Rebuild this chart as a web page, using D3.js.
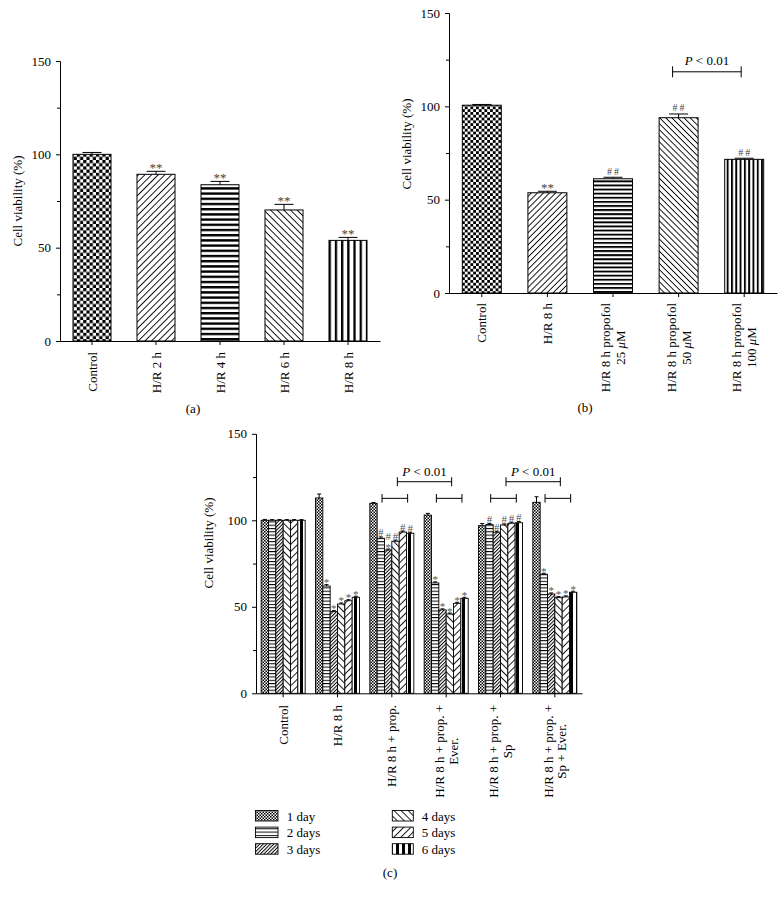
<!DOCTYPE html>
<html><head><meta charset="utf-8">
<script src="https://cdn.jsdelivr.net/npm/d3@7"></script>
<style>body{margin:0;background:#fff} svg{display:block} text{font-family:"Liberation Serif","DejaVu Serif",serif;}</style>
</head><body><svg id="c" width="784" height="901"></svg>
<script>
// ---------- DATA ----------
const yTicks = [0, 50, 100, 150];
const yMinor = [25, 75, 125];
const yTitle = "Cell viability (%)";
const pLabel = "P < 0.01";

// Panel (a)
const catsA = ["Control", "H/R 2 h", "H/R 4 h", "H/R 6 h", "H/R 8 h"];
const valsA = [100, 89.3, 83.7, 70.2, 53.9];
const errA  = [1.0, 1.6, 1.8, 3.0, 1.6];
const marksA = ["", "**", "**", "**", "**"];

// Panel (b)
const catsB = ["Control", "H/R 8 h", "H/R 8 h propofol\n25 μM", "H/R 8 h propofol\n50 μM", "H/R 8 h propofol\n100 μM"];
const valsB = [100.6, 53.7, 61.2, 93.9, 71.6];
const errB  = [0.4, 0.8, 0.8, 2.0, 0.6];
const marksB = ["", "**", "##", "##", "##"];
const bracketsB = [{from: 3, to: 4, y: 118.5}];

// Panel (c)
const groupsC = ["Control", "H/R 8 h", "H/R 8 h + prop.", "H/R 8 h + prop. +\nEver.", "H/R 8 h + prop. +\nSp", "H/R 8 h + prop. +\nSp + Ever."];
const seriesC = ["1 day", "2 days", "3 days", "4 days", "5 days", "6 days"];
const day1 = [100, 112.9, 109.8, 103.0, 96.9, 110.4];
const day2 = [100, 62.0, 89.6, 63.8, 97.5, 68.8];
const day3 = [100, 47.2, 82.8, 48.2, 93.1, 57.4];
const day4 = [100, 51.6, 87.9, 45.8, 97.3, 55.3];
const day5 = [100, 53.5, 93.2, 52.0, 98.3, 55.7];
const day6 = [100, 55.5, 92.5, 54.9, 98.6, 58.4];
const err1 = [0.5, 2.3, 0.5, 1.0, 1.2, 3.2];
const err2 = [0.4, 0.8, 0.8, 0.6, 0.6, 0.6];
const err3 = [0.4, 0.6, 0.6, 0.6, 0.6, 0.6];
const err4 = [0.4, 0.6, 0.6, 0.6, 0.6, 0.6];
const err5 = [0.4, 0.6, 0.6, 0.6, 0.6, 0.6];
const err6 = [0.4, 0.6, 0.6, 0.6, 0.6, 0.6];
const mark1 = ["", "", "", "", "", ""];
const mark2 = ["", "*", "#", "*", "#", "*"];
const mark3 = ["", "*", "#\n*", "*", "#", "*"];
const mark4 = ["", "*", "#", "*", "#", "*"];
const mark5 = ["", "*", "#", "*", "#", "*"];
const mark6 = ["", "*", "#", "*", "#", "*"];
const smallBracketsC = [{g: 2, y: 112.7}, {g: 3, y: 112.7}, {g: 4, y: 112.7}, {g: 5, y: 112.7}];
const bigBracketsC = [{from: 2, to: 3, y: 122.3}, {from: 4, to: 5, y: 122.3}];

// ---------- SETUP ----------
const svg = d3.select("#c");
svg.append("rect").attr("width", 784).attr("height", 901).attr("fill", "#fff");
const defs = svg.append("defs");
const FONT = "Liberation Serif, DejaVu Serif, serif";

function pat(id, w, h, tr) {
  const p = defs.append("pattern").attr("id", id).attr("patternUnits", "userSpaceOnUse")
    .attr("width", w).attr("height", h);
  if (tr) p.attr("patternTransform", tr);
  p.append("rect").attr("width", w).attr("height", h).attr("fill", "#fff");
  return p;
}
function checker(id, c) {
  const p = pat(id, 2 * c, 2 * c);
  p.append("rect").attr("width", c).attr("height", c).attr("fill", "#000");
  p.append("rect").attr("x", c).attr("y", c).attr("width", c).attr("height", c).attr("fill", "#000");
}
function diag(id, s, w, angle) {
  const p = pat(id, s, s, `rotate(${angle})`);
  p.append("rect").attr("width", w).attr("height", s).attr("fill", "#000");
}
function hstripe(id, pd, t) {
  const p = pat(id, 10, pd);
  p.append("rect").attr("width", 10).attr("height", t).attr("fill", "#000");
}
function vstripe(id, pd, t) {
  const p = pat(id, pd, 10);
  p.append("rect").attr("width", t).attr("height", 10).attr("fill", "#000");
}
// panel a patterns
checker("a0", 3.2); diag("a1", 4.7, 0.9, 45); hstripe("a2", 5.2, 2.4); diag("a3", 4.7, 0.9, -45); vstripe("a4", 6.2, 2.3);
// panel b patterns
checker("b0", 2.8); diag("b1", 4.3, 0.9, 45); hstripe("b2", 4.1, 1.9); diag("b3", 4.3, 0.9, -45); vstripe("b4", 4.3, 1.9);
// panel c patterns
checker("c0", 1.5); hstripe("c1", 3.3, 1); diag("c2", 2.5, 1.0, 45); diag("c3", 5, 0.9, -45); diag("c4", 5, 0.9, 45); vstripe("c5", 6, 3);

function styleAxis(g) {
  g.attr("font-family", FONT).attr("font-size", 13);
  g.selectAll("path, line").attr("stroke", "#000");
  g.selectAll("text").attr("fill", "#000");
}

function addLine(t, str) {
  const parts = str.split(/(μ)/);
  parts.forEach(pt => {
    if (!pt) return;
    const s = t.append("tspan").text(pt);
    if (pt === "μ") s.attr("font-style", "italic");
  });
}

function xLabels(g, x, cats, y0, off, lh) {
  cats.forEach(c => {
    const lines = c.split("\n");
    const cx = x(c) + x.bandwidth() / 2;
    const gg = g.append("g").attr("transform", `translate(${cx},${y0}) rotate(-90)`);
    const ts = lines.map((ln, i) => {
      const t = gg.append("text").attr("text-anchor", "middle").attr("font-size", 13)
        .attr("font-family", FONT).attr("fill", "#000")
        .attr("y", (i - (lines.length - 1) / 2) * lh).attr("dy", "0.35em");
      addLine(t, ln);
      return t;
    });
    const L = d3.max(ts, t => t.node().getComputedTextLength());
    ts.forEach(t => t.attr("x", -(off + L / 2)));
  });
}

function yAxis(g, y, x0) {
  g.append("g").attr("transform", `translate(${x0},0)`)
    .call(d3.axisLeft(y).tickValues(yTicks).tickSize(4).tickPadding(5).tickSizeOuter(0)).call(styleAxis);
  g.append("g").attr("transform", `translate(${x0},0)`)
    .call(d3.axisLeft(y).tickValues(yMinor).tickSize(3).tickFormat("").tickSizeOuter(0)).call(styleAxis);
}

function yTitleAt(g, cx, cy) {
  g.append("text").attr("transform", `translate(${cx},${cy}) rotate(-90)`).attr("text-anchor", "middle")
    .attr("dy", "0.35em").attr("font-size", 13).attr("font-family", FONT).text(yTitle);
}

function pText(g, cx, by) {
  const t = g.append("text").attr("x", cx).attr("y", by).attr("text-anchor", "middle")
    .attr("font-size", 13).attr("font-family", FONT);
  t.append("tspan").attr("font-style", "italic").text(pLabel.slice(0, 1));
  t.append("tspan").text(pLabel.slice(1));
}

function bracket(g, x1, x2, yy, hh) {
  g.append("line").attr("x1", x1).attr("x2", x2).attr("y1", yy).attr("y2", yy).attr("stroke", "#000");
  [x1, x2].forEach(xx => g.append("line").attr("x1", xx).attr("x2", xx).attr("y1", yy - hh).attr("y2", yy + hh).attr("stroke", "#000"));
}

function simplePanel(o) {
  const g = svg.append("g");
  const x = d3.scaleBand().domain(o.cats).range(o.xr).paddingInner(0.406).paddingOuter(0.203);
  const y = d3.scaleLinear().domain([0, 150]).range(o.yr);
  const bw = x.bandwidth();
  g.selectAll("rect.bar").data(o.cats).join("rect").attr("class", "bar")
    .attr("x", d => x(d)).attr("y", (d, i) => y(o.vals[i]))
    .attr("width", bw).attr("height", (d, i) => y(0) - y(o.vals[i]))
    .attr("fill", (d, i) => `url(#${o.pat}${i})`).attr("stroke", "#000").attr("stroke-width", 1);
  o.cats.forEach((c, i) => {
    const cx = x(c) + bw / 2, top = y(o.vals[i]), cap = y(o.vals[i] + o.err[i]);
    g.append("line").attr("x1", cx).attr("x2", cx).attr("y1", top).attr("y2", cap).attr("stroke", "#000");
    g.append("line").attr("x1", cx - 9.5).attr("x2", cx + 9.5).attr("y1", cap).attr("y2", cap).attr("stroke", "#000");
    const m = o.marks[i];
    if (m) {
      const isHash = m[0] === "#";
      g.append("text").attr("x", cx + (isHash ? 1 : 0)).attr("y", isHash ? cap - 2.5 : cap + 0.5)
        .attr("text-anchor", "middle").attr("font-family", FONT)
        .attr("font-size", isHash ? 10 : 13).attr("letter-spacing", isHash ? 2 : 0)
        .attr("fill", "#444").text(m);
    }
  });
  yAxis(g, y, o.xr[0]);
  g.append("g").attr("transform", `translate(0,${o.yr[0]})`)
    .call(d3.axisBottom(x).tickSize(4).tickSizeOuter(0).tickFormat("")).call(styleAxis);
  xLabels(g, x, o.cats, o.yr[0], o.labOff, o.lh);
  yTitleAt(g, o.title[0], o.title[1]);
  g.append("text").attr("x", o.tag[0]).attr("y", o.tag[1]).attr("text-anchor", "middle")
    .attr("font-size", 13).attr("font-family", FONT).text(o.tagText);
  return {g, x, y};
}

// ---------- PANEL A ----------
simplePanel({cats: catsA, vals: valsA, err: errA, marks: marksA, pat: "a",
  xr: [60, 380], yr: [341, 61], labOff: 11, lh: 15, title: [17, 201], tag: [193, 413], tagText: "(a)"});

// ---------- PANEL B ----------
const pb = simplePanel({cats: catsB, vals: valsB, err: errB, marks: marksB, pat: "b",
  xr: [449, 777], yr: [293, 13], labOff: 10, lh: 15, title: [406, 144], tag: [585, 412], tagText: "(b)"});
bracketsB.forEach(b => {
  const bw = pb.x.bandwidth();
  const x1 = pb.x(catsB[b.from]) + bw / 2 - 6, x2 = pb.x(catsB[b.to]) + bw / 2 - 3;
  const yy = pb.y(b.y);
  bracket(pb.g, x1, x2, yy, 5.5);
  pText(pb.g, (x1 + x2) / 2, yy - 7);
});

// ---------- PANEL C ----------
(function () {
  const g = svg.append("g");
  const vals = [day1, day2, day3, day4, day5, day6];
  const errs = [err1, err2, err3, err4, err5, err6];
  const marks = [mark1, mark2, mark3, mark4, mark5, mark6];
  const x0 = d3.scaleBand().domain(groupsC).range([256, 582]).paddingInner(0.19).paddingOuter(0.095);
  const x1 = d3.scaleBand().domain(seriesC).range([0, x0.bandwidth()]);
  const y = d3.scaleLinear().domain([0, 150]).range([693.3, 433.8]);
  const bw = x1.bandwidth();
  groupsC.forEach((grp, gi) => {
    seriesC.forEach((s, si) => {
      const v = vals[si][gi], e = errs[si][gi];
      const xx = x0(grp) + x1(s), cx = xx + bw / 2;
      g.append("rect").attr("x", xx).attr("y", y(v)).attr("width", bw).attr("height", y(0) - y(v))
        .attr("fill", `url(#c${si})`).attr("stroke", "#000").attr("stroke-width", 0.9);
      const cap = y(v + e);
      g.append("line").attr("x1", cx).attr("x2", cx).attr("y1", y(v)).attr("y2", cap).attr("stroke", "#000");
      g.append("line").attr("x1", cx - 2).attr("x2", cx + 2).attr("y1", cap).attr("y2", cap).attr("stroke", "#000");
      const m = marks[si][gi];
      if (m) {
        const lines = m.split("\n").reverse();
        const base = cap + (lines[0] === "*" ? 1.5 : -0.5);
        lines.forEach((ln, li) => {
          g.append("text").attr("x", cx).attr("y", base - li * 11).attr("text-anchor", "middle")
            .attr("font-size", 11).attr("font-family", FONT).attr("fill", "#555").text(ln);
        });
      }
    });
  });
  smallBracketsC.forEach(b => {
    const cx = x0(groupsC[b.g]) + x0.bandwidth() / 2 + 3;
    bracket(g, cx - 12.8, cx + 12.8, y(b.y), 4.3);
  });
  bigBracketsC.forEach(b => {
    const xa = x0(groupsC[b.from]) + x0.bandwidth() / 2 + 5.5;
    const xb = x0(groupsC[b.to]) + x0.bandwidth() / 2 + 5.5;
    bracket(g, xa, xb, y(b.y), 4.5);
    pText(g, (xa + xb) / 2, y(b.y) - 6);
  });
  yAxis(g, y, 256);
  g.append("g").attr("transform", `translate(0,${y(0)})`)
    .call(d3.axisBottom(x0).tickSize(4).tickSizeOuter(0).tickFormat("")).call(styleAxis);
  xLabels(g, x0, groupsC, y(0), 11.7, 13.7);
  yTitleAt(g, 208, 543);

  const leg = g.append("g");
  seriesC.forEach((s, i) => {
    const col = Math.floor(i / 3), row = i % 3;
    const sx = col === 0 ? 255.5 : 392.3, sw = col === 0 ? 22.5 : 21;
    const tx = col === 0 ? 286.7 : 421.7;
    const top = 810.5 + row * 16.6;
    leg.append("rect").attr("x", sx).attr("y", top).attr("width", sw).attr("height", 10.5)
      .attr("fill", `url(#c${i})`).attr("stroke", "#000").attr("stroke-width", 0.9);
    leg.append("text").attr("x", tx).attr("y", top + 10).attr("font-size", 13)
      .attr("font-family", FONT).text(s);
  });
  g.append("text").attr("x", 390).attr("y", 877).attr("text-anchor", "middle")
    .attr("font-size", 13).attr("font-family", FONT).text("(c)");
})();
</script></body></html>
